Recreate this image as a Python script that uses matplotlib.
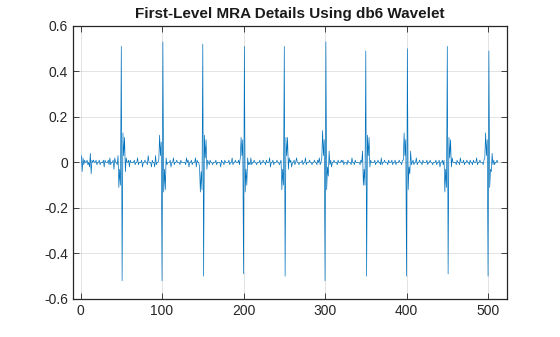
import matplotlib.pyplot as plt
import numpy as np

plt.close('all')
plt.rcParams.update({'font.family': ['Liberation Sans', 'DejaVu Sans']})

# SMALL BACKGROUND DETAIL VALUES (hundredths), SAMPLES 1..512
noise = [
    3, -4, 2, -1, 1, 0, 0, 1, -1, 0, -2, 4, -5, 1, 0, 1, 0, 0, 1, -1, 0, 0, 1, -1, 0, 0, 0, 1, -2, 1, 0, 0,
    0, 1, -1, 2, -1, 0, 0, 1, -3, 2, 0, 0, -1, 4, -2, 1, 0, 0, -1, 0, 0, 0, 1, -1, 0, 0, 1, -2, 1, 0, 0, 0,
    0, 1, -1, 0, 0, 2, -1, 0, 0, 0, 1, -2, 0, 0, 1, 0, 0, -1, 3, 0, 0, 0, -2, 1, 0, 0, -2, 3, -1, 0, 0, 1,
    -1, 2, 0, 0, -1, 0, 0, 0, 1, -1, 0, 0, 0, 1, -2, 0, 0, 2, -1, 0, 0, 1, 0, 0, 0, -1, 1, 0, 0, 0, 0, 0,
    -1, 2, 0, 1, -2, 0, 0, 1, -1, 0, 0, 0, 2, -2, 1, 0, 0, 0, -1, 3, -1, 0, 0, 1, -2, 0, 0, 0, 0, -1, 1, 0,
    0, -1, 0, 0, 0, 1, -1, 0, 0, 0, 0, -2, 1, 0, 0, -1, 1, 0, 0, 0, 0, 1, -1, 0, 0, 2, -1, 0, 0, 1, 0, 0,
    0, 1, -1, 2, 0, 0, -2, 1, 0, 0, -1, 1, 0, 0, 0, -1, 2, -1, 0, 0, 1, 0, 0, -1, 0, 0, 0, 1, -1, 0, 0, 1,
    0, 0, -1, 1, 0, 0, 0, 2, -2, 0, 0, 1, -1, 0, 0, 0, 1, 0, 0, -1, 0, 0, 1, -1, 0, 0, 0, 0, -1, 1, 0, 0,
    0, 1, -2, 0, 0, 1, -1, 0, 2, 0, 0, -1, 0, 0, 0, 1, -1, 0, 0, 2, -1, 0, 0, 0, 1, 0, 0, -1, 0, 0, 1, 0,
    0, -1, 1, 0, 2, -1, 0, 0, 0, 0, 0, 1, -1, 0, 0, 0, 0, -1, 1, -2, 0, 0, 1, 0, 0, 0, -1, 1, 0, 0, 0, 1,
    0, 1, -1, 0, 0, 0, -1, 1, 0, 0, 0, -1, 2, 0, 0, -1, 1, 0, 0, 0, 0, 0, -1, 1, 0, 0, -1, 2, 0, 0, 0, 1,
    -1, 0, 0, 1, 0, 0, 0, 0, 1, -1, 0, 0, 1, 0, 0, -1, 2, -1, 0, 0, 1, 0, 0, 0, -1, 1, 0, 0, 0, 1, -1, 0,
    0, 1, -1, 0, 0, 0, 1, 0, 0, -1, 1, 0, 0, -2, 1, 0, 0, 0, -1, 1, 0, 0, 0, 1, -1, 0, 0, 2, -1, 0, 0, 1,
    0, 0, -1, 1, 0, 0, 0, 0, 1, -1, 0, 0, 1, 0, 0, -1, 0, 0, 0, 1, -1, 0, 0, 1, -2, 0, 0, 1, -1, 0, 0, 0,
    0, -1, 1, 0, 0, 0, 1, -1, 0, 0, 0, 0, -1, 1, 0, 0, -1, 2, 0, 0, 0, 1, -1, 0, 0, 1, 0, 0, -1, 1, 0, 0,
    -1, 1, 0, 0, 0, 2, -1, 0, 0, 1, 0, 0, 0, -1, 1, 0, 0, -1, 0, 0, 1, -1, 0, 0, 2, 0, 1, -1, 0, 0, 1, 0,
]

# SPIKE LOCATIONS AND THEIR NEIGHBOURHOODS (hundredths), OFFSETS -4..+6
spike_pos = [50, 100, 150, 200, 250, 300, 350, 400, 450, 500]
spike_vals = [
    [3, -11, -3, -10, 51, -52, 13, 3, 11, -4, 2],
    [1, 12, 3, 9, -52, 53, -13, -3, -12, 2, -1],
    [-2, -13, -4, -12, 52, -50, 12, 2, 10, -3, 1],
    [2, 11, 3, 10, -49, 51, -13, -3, -10, 2, -1],
    [1, -12, -3, -10, 51, -50, 11, 3, 11, -3, 2],
    [2, 14, 3, 10, -52, 53, -12, -2, -6, 5, -1],
    [5, -10, -3, -10, 49, -50, 12, 3, 11, -2, 1],
    [1, 13, 3, 10, -50, 50, -12, -2, -5, 5, -1],
    [1, -13, -3, -11, 51, -49, 11, 2, 10, -2, 2],
    [2, 13, 3, 10, -50, 49, -11, -3, -4, 4, -1],
]

n = np.arange(1, len(noise) + 1)
d1 = np.array(noise, dtype=float) / 100.0
for p, vals in zip(spike_pos, spike_vals):
    idx = p - 1 + np.arange(-4, -4 + len(vals))
    d1[idx] = np.array(vals) / 100.0

fig = plt.figure(figsize=(5.6, 3.37), dpi=100)
ax = fig.add_axes([0.13, 0.113, 0.775, 0.81])

ax.plot(n, d1, color='#0072BD', linewidth=0.5)

ax.set_xlim(-9.5, 523)
ax.set_ylim(-0.6, 0.6)

xticks = [0, 100, 200, 300, 400, 500]
ax.set_xticks(xticks)
ax.set_xticklabels([str(t) for t in xticks], fontsize=10)
yticks = np.around(np.linspace(-0.6, 0.6, 7), 1)
ax.set_yticks(yticks)
ax.set_yticklabels(['0' if t == 0 else '%.1f' % t for t in yticks], fontsize=10)

ax.grid(True, color='#262626', alpha=0.15, linewidth=0.6)
ax.set_axisbelow(True)
ax.tick_params(direction='in', length=4, width=0.6, colors='#262626',
               top=True, right=True, labelcolor='#262626')
for axis in ['top', 'bottom', 'left', 'right']:
    ax.spines[axis].set_linewidth(0.9)
    ax.spines[axis].set_color('#262626')

ax.set_title('First-Level MRA Details Using db6 Wavelet', fontsize=11,
             fontweight='bold', color='#1a1a1a', pad=6)

plt.savefig('out.png', dpi=100)
